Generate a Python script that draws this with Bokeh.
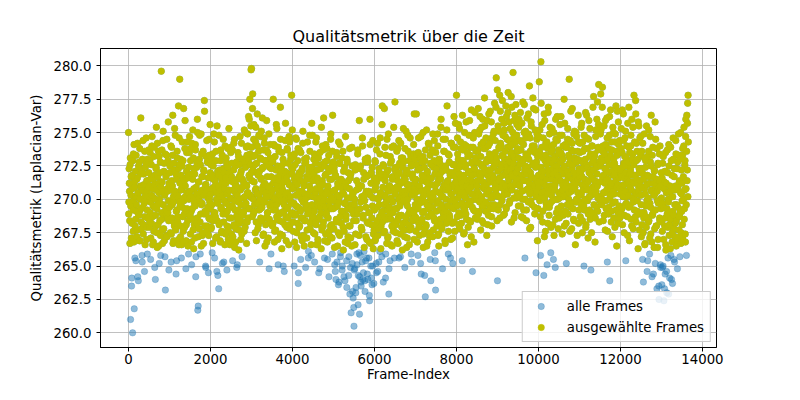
import numpy as np
from bokeh.plotting import figure
from bokeh.models import Range1d, FixedTicker, NumeralTickFormatter, Legend, LegendItem, ColumnDataSource
from bokeh.embed import file_html
from bokeh.resources import INLINE

# ---------------- data ----------------
title_text = "Qualitätsmetrik über die Zeit"
x_label = "Frame-Index"
y_label = "Qualitätsmetrik (Laplacian-Var)"
series_all = "alle Frames"
series_sel = "ausgewählte Frames"

frame_step = 10          # each list holds one value per 10 frames
frame_offset_b = 5       # second set of lists: frames 5, 15, 25, ...
threshold = 266.2        # frames at or above are "ausgewählt"

x_ticks = [0, 2000, 4000, 6000, 8000, 10000, 12000, 14000]
y_ticks = [260.0, 262.5, 265.0, 267.5, 270.0, 272.5, 275.0, 277.5, 280.0]

# frames 0, 10, 20, ...
qa0000 = [275.0, 269.8, 271.2, 268.4, 272.6, 261.0, 270.3, 267.1, 264.1, 271.8,
          260.0, 269.2, 273.4, 266.8, 261.8, 270.9, 268.0, 272.1, 265.4, 269.6,
          271.5, 267.7, 274.2, 270.4, 263.9, 268.9, 272.8, 269.1, 266.9, 271.0,
          276.1, 268.3, 270.7, 265.8, 273.0, 269.4, 267.4, 271.9, 270.1, 264.6,
          268.7, 272.4, 269.9, 274.6, 267.0, 270.6, 265.9, 271.4, 268.6, 273.7]
qa0500 = [270.2, 267.9, 272.9, 269.0, 265.5, 271.6, 268.2, 274.0, 270.8, 266.6,
          269.5, 273.2, 267.6, 271.1, 264.9, 270.0, 268.8, 272.3, 275.4, 269.3,
          266.4, 271.7, 268.1, 273.6, 270.5, 265.2, 269.7, 272.0, 267.3, 270.9,
          279.6, 268.5, 271.3, 266.7, 274.4, 269.6, 267.8, 272.7, 270.3, 265.7,
          263.2, 271.9, 268.9, 273.3, 267.2, 270.6, 269.0, 275.8, 268.4, 271.2]
qa1000 = [269.4, 272.5, 267.5, 270.7, 265.3, 273.9, 268.6, 271.0, 276.3, 269.8,
          266.9, 272.2, 268.0, 270.4, 274.8, 267.7, 264.4, 271.5, 269.2, 273.1,
          268.3, 270.1, 277.0, 266.6, 272.6, 279.0, 269.5, 267.2, 271.8, 265.6,
          270.8, 274.3, 268.7, 272.9, 266.8, 269.9, 271.4, 267.9, 275.9, 270.2,
          264.8, 268.1, 273.5, 269.3, 271.6, 266.5, 270.5, 272.4, 268.8, 274.7]
qa1500 = [270.6, 267.4, 273.8, 269.1, 265.1, 271.9, 268.5, 275.2, 270.0, 266.3,
          272.3, 269.7, 267.1, 274.1, 264.2, 270.9, 268.2, 272.7, 276.0, 261.7,
          262.0, 271.3, 267.8, 273.0, 270.3, 265.9, 268.9, 274.9, 269.6, 271.7,
          267.3, 270.7, 273.6, 266.7, 272.1, 277.4, 268.0, 270.4, 265.0, 271.1,
          269.0, 274.4, 267.6, 272.8, 270.1, 264.5, 268.6, 273.3, 269.8, 275.6]
qa2000 = [269.3, 272.6, 267.9, 270.8, 266.0, 273.4, 268.4, 271.5, 274.9, 269.0,
          265.6, 271.0, 268.7, 272.9, 270.5, 267.2, 275.5, 269.7, 264.3, 271.8,
          263.3, 268.1, 272.2, 270.2, 266.8, 273.7, 269.4, 267.5, 271.2, 265.2,
          270.9, 274.5, 268.3, 272.0, 269.9, 266.6, 271.6, 268.9, 273.1, 270.4,
          264.7, 269.1, 272.4, 267.7, 270.7, 275.3, 268.6, 271.4, 266.9, 273.9]
qa2500 = [270.0, 267.4, 272.7, 269.5, 265.4, 271.3, 268.0, 274.2, 270.6, 266.4,
          269.2, 272.5, 267.8, 271.0, 264.9, 270.3, 268.5, 273.5, 269.8, 266.2,
          271.7, 268.2, 274.7, 270.7, 267.0, 272.1, 269.0, 265.7, 271.5, 268.8,
          273.0, 270.1, 267.6, 272.8, 269.6, 275.0, 268.3, 271.1, 266.7, 273.3,
          270.5, 274.0, 268.6, 276.2, 271.8, 269.3, 277.5, 272.6, 270.2, 279.7]
qa3000 = [279.8, 271.4, 268.7, 277.9, 273.2, 270.0, 275.6, 269.1, 272.6, 267.5,
          274.3, 270.8, 266.9, 272.0, 276.4, 269.7, 271.9, 268.1, 274.8, 270.4,
          265.3, 273.1, 269.3, 271.6, 275.1, 268.4, 272.3, 270.6, 267.3, 273.7,
          269.8, 274.6, 271.2, 266.5, 272.9, 270.2, 268.6, 275.9, 271.0, 269.0,
          273.5, 267.1, 270.9, 264.8, 272.4, 269.5, 274.1, 268.2, 271.7, 270.3]
qa3500 = [270.7, 268.0, 272.8, 277.5, 269.2, 271.5, 266.8, 274.0, 270.1, 267.7,
          272.2, 269.6, 275.3, 268.5, 271.0, 265.1, 270.4, 273.6, 268.9, 271.8,
          267.4, 274.5, 269.9, 272.5, 266.3, 270.8, 268.3, 273.0, 271.3, 269.1,
          264.6, 272.1, 270.0, 275.7, 268.7, 271.6, 267.9, 273.8, 270.5, 269.4,
          272.7, 266.6, 271.1, 274.3, 268.1, 270.2, 273.3, 269.7, 277.8, 271.9]
qa4000 = [269.0, 272.3, 267.6, 270.9, 265.0, 273.4, 268.8, 271.2, 274.6, 269.5,
          266.4, 271.7, 268.2, 272.9, 263.7, 270.3, 267.9, 273.7, 269.3, 271.4,
          265.5, 268.6, 272.1, 270.6, 266.9, 274.2, 269.8, 267.3, 271.0, 268.4,
          272.7, 270.0, 264.9, 269.6, 273.1, 267.1, 271.5, 268.9, 270.4, 266.1,
          272.4, 269.2, 274.8, 267.8, 271.8, 270.7, 265.8, 275.7, 268.5, 272.0]
qa4500 = [270.2, 267.5, 273.0, 269.1, 265.3, 271.6, 268.3, 274.3, 270.8, 266.6,
          272.2, 269.7, 267.0, 271.3, 264.5, 270.1, 268.7, 273.5, 269.4, 272.6,
          266.3, 270.5, 267.7, 274.0, 271.1, 268.0, 276.1, 269.9, 265.6, 272.8,
          270.4, 267.4, 271.9, 269.0, 273.8, 266.8, 270.7, 268.6, 272.3, 264.2,
          269.5, 271.5, 267.2, 274.5, 270.0, 268.1, 272.5, 265.9, 276.3, 269.3]
qa5000 = [270.6, 267.8, 272.1, 265.1, 269.4, 271.8, 264.0, 268.5, 273.2, 270.3,
          266.5, 271.0, 263.6, 269.8, 272.7, 267.3, 274.1, 265.7, 270.9, 268.2,
          271.4, 264.7, 269.1, 273.6, 266.2, 270.4, 267.6, 272.4, 263.9, 269.7,
          271.2, 268.8, 265.4, 273.0, 270.1, 266.7, 272.0, 264.3, 268.0, 270.8,
          262.9, 271.6, 267.1, 261.5, 269.2, 273.9, 265.2, 270.5, 262.6, 268.4]
qa5500 = [260.5, 269.6, 264.8, 272.2, 267.4, 263.4, 270.7, 265.9, 268.9, 273.4,
          262.1, 271.1, 266.0, 275.9, 264.2, 269.3, 272.5, 263.8, 267.9, 270.2,
          265.3, 274.0, 268.6, 264.5, 271.5, 266.4, 269.9, 263.1, 272.8, 267.2,
          270.6, 265.6, 268.3, 273.1, 264.0, 271.8, 269.0, 266.8, 262.4, 276.0,
          270.3, 265.0, 272.0, 268.1, 263.6, 269.5, 274.4, 266.3, 271.3, 267.7]
qa6000 = [269.2, 272.9, 267.0, 270.9, 265.2, 273.7, 268.4, 271.6, 264.6, 270.0,
          267.8, 272.3, 269.6, 266.1, 274.6, 270.5, 268.0, 271.9, 265.7, 277.0,
          269.1, 272.6, 267.5, 270.3, 276.8, 268.7, 271.4, 264.1, 273.3, 269.8,
          266.7, 272.1, 270.7, 267.2, 274.9, 262.9, 269.4, 271.0, 265.4, 272.7,
          268.5, 270.1, 273.9, 266.5, 271.7, 269.0, 267.6, 275.4, 270.6, 268.2]
qa6500 = [277.3, 270.4, 268.1, 272.4, 269.3, 266.9, 271.8, 273.8, 268.6, 270.8,
          265.6, 272.0, 269.5, 267.4, 274.2, 270.2, 268.8, 271.3, 266.2, 273.1,
          269.9, 272.8, 267.7, 270.6, 264.9, 271.5, 268.3, 275.1, 269.7, 272.2,
          267.1, 270.0, 273.6, 268.9, 271.1, 266.6, 269.2, 274.6, 270.7, 267.9,
          272.5, 265.3, 270.3, 271.9, 268.4, 273.4, 269.0, 276.4, 271.2, 268.7]
qa7000 = [270.5, 267.6, 276.4, 272.6, 269.4, 271.0, 265.8, 273.5, 268.2, 270.9,
          267.3, 272.3, 269.8, 274.7, 264.4, 271.4, 268.5, 270.1, 273.2, 266.4,
          271.7, 269.1, 267.8, 272.9, 262.7, 270.7, 268.0, 275.2, 269.6, 272.1,
          266.8, 271.2, 269.3, 274.1, 267.5, 270.4, 265.5, 272.7, 268.9, 271.6,
          269.9, 273.7, 267.2, 270.2, 272.4, 268.6, 274.4, 266.0, 271.0, 263.2]
qa7500 = [270.6, 268.4, 272.8, 269.7, 274.9, 267.3, 271.5, 266.5, 273.0, 269.2,
          271.9, 268.1, 275.4, 270.3, 267.9, 272.5, 264.8, 270.8, 269.0, 273.6,
          268.6, 271.1, 266.9, 274.5, 270.0, 272.2, 268.3, 277.0, 269.5, 271.4,
          265.9, 270.7, 273.3, 268.8, 272.0, 269.9, 267.0, 274.2, 270.4, 271.8,
          268.2, 265.2, 272.6, 269.3, 276.2, 270.9, 267.6, 273.9, 271.3, 269.6]
qa8000 = [277.8, 271.2, 268.7, 273.4, 270.1, 275.6, 269.0, 272.4, 267.8, 271.6,
          274.3, 270.5, 268.2, 272.9, 265.4, 270.9, 273.7, 269.4, 271.8, 267.5,
          275.0, 270.2, 272.6, 268.9, 274.0, 271.0, 269.6, 266.6, 273.2, 270.7,
          272.1, 268.4, 275.9, 271.5, 269.8, 273.9, 267.2, 270.4, 272.8, 264.6,
          271.3, 274.6, 269.2, 272.3, 270.0, 276.5, 268.6, 273.1, 271.9, 270.3]
qa8500 = [271.0, 268.5, 273.6, 276.8, 270.4, 272.7, 269.1, 275.2, 271.7, 267.7,
          274.1, 270.0, 272.5, 269.5, 276.0, 271.3, 268.2, 273.8, 270.8, 275.5,
          272.0, 269.8, 274.6, 271.1, 267.3, 273.0, 270.6, 272.9, 268.8, 276.4,
          271.5, 274.2, 269.3, 272.2, 270.1, 275.8, 268.0, 273.3, 271.8, 270.3,
          274.9, 272.4, 269.6, 277.2, 271.2, 273.5, 270.7, 279.1, 272.8, 268.4]
qa9000 = [263.9, 272.1, 269.2, 275.1, 271.4, 273.8, 268.6, 276.6, 270.9, 274.0,
          272.6, 269.9, 277.4, 271.8, 273.2, 270.3, 275.7, 268.9, 272.9, 274.7,
          271.0, 269.4, 276.2, 272.4, 270.6, 273.9, 278.0, 271.6, 274.4, 269.7,
          272.2, 275.3, 270.8, 273.4, 268.3, 276.9, 271.9, 274.1, 279.5, 272.7,
          270.1, 275.9, 273.1, 269.0, 271.3, 277.1, 272.0, 274.8, 270.5, 273.6]
qa9500 = [272.3, 269.5, 275.4, 271.1, 273.7, 270.2, 276.5, 272.8, 268.7, 274.3,
          271.6, 270.0, 277.3, 273.0, 269.2, 275.0, 271.9, 265.6, 272.5, 274.6,
          270.7, 268.4, 276.1, 273.3, 271.4, 269.8, 274.9, 272.1, 278.5, 270.4,
          273.6, 267.9, 275.8, 271.7, 269.6, 274.0, 272.6, 270.9, 276.8, 273.9,
          271.0, 268.9, 275.2, 272.4, 264.5, 270.6, 274.5, 271.3, 273.2, 269.3]
qa10000 = [271.8, 274.7, 278.8, 269.9, 273.4, 265.8, 280.3, 272.0, 270.5, 275.6,
           268.3, 273.1, 271.2, 264.3, 276.4, 270.1, 272.9, 267.6, 274.2, 269.4,
           271.5, 265.1, 273.8, 270.8, 276.9, 272.2, 268.8, 274.9, 271.0, 269.7,
           266.0, 273.5, 270.3, 275.3, 272.7, 268.1, 271.9, 274.1, 267.3, 270.7,
           273.0, 264.9, 276.0, 271.4, 269.0, 272.5, 274.4, 270.0, 267.8, 273.7]
qa10500 = [271.6, 268.6, 274.8, 270.4, 272.8, 276.2, 269.5, 273.3, 267.4, 271.1,
           274.0, 270.2, 272.4, 268.0, 275.7, 271.3, 269.1, 273.9, 265.2, 270.8,
           272.1, 274.5, 268.9, 271.8, 270.0, 279.0, 273.1, 269.7, 272.6, 276.6,
           270.6, 267.8, 274.2, 271.5, 269.3, 273.6, 272.0, 268.4, 275.1, 270.9,
           266.6, 272.9, 271.2, 274.7, 269.8, 273.0, 270.5, 276.3, 268.2, 272.3]
qa11000 = [270.3, 273.5, 268.7, 272.0, 275.4, 269.6, 271.7, 267.5, 274.3, 270.7,
           272.7, 265.0, 269.2, 273.8, 271.1, 276.5, 268.1, 270.9, 274.6, 272.4,
           269.9, 267.1, 271.4, 275.9, 270.2, 273.2, 268.5, 272.2, 264.7, 270.6,
           274.0, 271.6, 269.0, 276.9, 272.9, 268.8, 271.0, 273.4, 266.8, 270.4,
           275.2, 272.5, 269.4, 271.9, 277.3, 270.1, 273.9, 278.6, 268.3, 272.6]
qa11500 = [271.3, 274.9, 277.9, 269.7, 272.8, 270.0, 278.4, 273.6, 268.4, 271.8,
           275.5, 270.5, 272.3, 267.7, 274.1, 269.3, 271.5, 276.1, 265.3, 273.0,
           270.8, 268.9, 272.0, 274.8, 263.9, 270.3, 276.7, 271.2, 269.1, 273.7,
           267.2, 272.6, 270.6, 275.0, 268.6, 271.9, 274.3, 269.8, 272.4, 277.0,
           270.9, 266.5, 273.3, 271.1, 268.2, 275.8, 272.1, 269.5, 274.4, 270.4]
qa12000 = [272.2, 269.0, 275.3, 271.0, 273.5, 268.1, 270.7, 276.4, 272.7, 267.5,
           271.6, 274.6, 269.6, 265.4, 273.1, 270.2, 272.5, 268.7, 275.7, 271.3,
           269.4, 273.9, 266.9, 270.9, 272.3, 274.0, 268.5, 271.8, 276.0, 270.1,
           273.4, 267.8, 271.2, 277.8, 269.2, 272.9, 270.5, 277.4, 268.3, 274.2,
           271.5, 269.9, 273.0, 266.3, 270.6, 275.5, 272.0, 268.9, 271.4, 274.7]
qa12500 = [270.3, 267.2, 273.6, 269.0, 265.5, 271.9, 263.8, 268.6, 274.9, 270.8,
           266.7, 272.4, 269.5, 267.9, 271.1, 264.6, 273.2, 270.0, 268.3, 275.2,
           271.7, 265.9, 269.7, 272.8, 267.4, 276.3, 270.6, 264.2, 268.8, 273.9,
           271.2, 269.2, 266.4, 272.1, 270.4, 265.2, 274.5, 268.0, 271.5, 263.3,
           269.9, 272.6, 267.0, 270.9, 262.5, 273.4, 268.4, 271.0, 264.9, 269.3]
qa13000 = [270.1, 263.6, 267.6, 272.7, 265.0, 269.4, 262.4, 271.3, 268.0, 264.4,
           273.5, 266.2, 270.5, 263.0, 268.9, 272.0, 265.6, 269.8, 274.1, 267.3,
           264.1, 271.0, 268.5, 265.8, 272.9, 270.2, 266.8, 263.7, 269.1, 273.0,
           267.8, 271.7, 265.3, 270.7, 268.2, 274.4, 266.5, 269.6, 272.3, 264.8,
           270.9, 267.1, 273.3, 268.7, 271.4, 265.7, 269.2, 275.0, 267.5, 270.4]
qa13500 = [271.2, 268.1, 273.8, 266.9, 270.0, 275.4, 269.3, 272.6, 267.4, 274.7,
           270.8, 265.8, 276.3, 272.2, 277.2, 277.8]

# frames 5, 15, 25, ...
qb0000 = [268.9, 272.3, 270.6, 266.7, 273.1, 269.5, 271.7, 263.5, 268.2, 270.8,
          272.9, 267.6, 269.9, 274.1, 271.3, 265.6, 270.2, 268.5, 273.3, 269.1,
          267.2, 271.6, 264.2, 270.5, 272.5, 268.8, 266.9, 273.8, 270.0, 271.9,
          269.3, 267.8, 272.2, 265.3, 270.7, 274.4, 268.1, 271.1, 269.7, 273.6,
          266.6, 270.4, 272.7, 267.9, 271.4, 269.2, 273.0, 268.6, 270.9, 272.0]
qb0500 = [271.0, 268.3, 273.5, 269.8, 267.1, 272.6, 270.3, 274.7, 268.7, 271.5,
          266.8, 270.1, 273.9, 269.4, 271.8, 264.0, 268.0, 272.4, 270.7, 267.5,
          274.2, 269.6, 271.2, 266.5, 273.2, 270.0, 268.4, 272.8, 265.8, 271.3,
          269.0, 273.7, 267.7, 270.6, 275.1, 268.9, 272.1, 266.9, 270.4, 273.4,
          269.2, 271.7, 267.3, 274.5, 270.8, 268.6, 272.9, 269.9, 264.7, 271.1]
qb1000 = [272.0, 268.5, 270.9, 274.0, 267.4, 271.4, 269.6, 273.3, 266.7, 270.2,
          272.7, 268.2, 275.3, 270.6, 267.9, 271.9, 269.1, 265.4, 273.6, 270.3,
          268.7, 272.3, 267.0, 274.6, 269.8, 271.2, 268.0, 273.0, 270.7, 266.6,
          272.5, 269.4, 271.6, 267.6, 276.8, 270.1, 268.9, 273.8, 271.0, 269.2,
          266.9, 272.1, 270.5, 274.3, 268.4, 271.8, 265.9, 270.0, 273.5, 269.0]
qb1500 = [268.8, 272.9, 270.2, 266.8, 274.2, 269.3, 271.5, 267.7, 273.1, 270.8,
          268.1, 271.9, 269.5, 273.7, 265.7, 270.4, 272.4, 268.6, 275.0, 270.0,
          267.2, 271.3, 269.9, 274.8, 268.3, 272.6, 270.6, 266.5, 273.4, 269.7,
          271.7, 267.5, 270.3, 272.2, 268.9, 276.6, 269.1, 271.1, 264.9, 273.2,
          270.7, 268.0, 272.8, 269.4, 271.6, 267.3, 274.5, 270.1, 268.5, 272.0]
qb2000 = [270.4, 267.8, 273.0, 269.6, 271.8, 266.7, 272.5, 268.7, 270.9, 274.3,
          269.0, 271.4, 267.1, 273.6, 270.0, 264.6, 268.4, 272.1, 269.8, 271.0,
          274.8, 268.2, 270.6, 266.9, 272.9, 269.3, 271.6, 267.6, 273.3, 270.3,
          268.9, 272.3, 265.3, 270.8, 269.1, 274.0, 267.4, 271.2, 269.7, 272.7,
          268.0, 270.5, 273.8, 267.0, 271.9, 269.5, 272.0, 266.6, 270.1, 273.5]
qb2500 = [268.6, 271.7, 269.4, 273.7, 267.2, 270.7, 272.2, 268.1, 274.5, 269.9,
          271.1, 266.8, 270.4, 272.8, 268.8, 265.1, 271.5, 269.2, 273.2, 267.7,
          270.0, 272.6, 268.4, 271.9, 269.6, 274.2, 267.4, 270.9, 273.0, 268.9,
          271.3, 269.1, 275.2, 270.2, 267.9, 272.4, 269.7, 273.9, 271.0, 268.3,
          274.9, 270.5, 272.9, 269.3, 276.0, 271.6, 273.4, 270.3, 275.5, 272.0]
qb3000 = [273.9, 270.1, 276.8, 272.2, 268.9, 274.5, 271.3, 269.6, 273.3, 270.7,
          275.4, 268.3, 272.7, 270.4, 274.0, 267.8, 271.8, 273.6, 269.2, 272.1,
          270.0, 274.7, 268.6, 271.5, 273.0, 269.4, 276.1, 270.9, 272.4, 267.4,
          271.1, 274.2, 269.8, 272.9, 268.1, 270.5, 273.7, 266.8, 271.7, 269.0,
          272.6, 270.2, 274.9, 268.5, 271.0, 273.1, 269.7, 265.9, 272.3, 270.6]
qb3500 = [269.5, 272.9, 268.2, 271.2, 274.1, 270.0, 267.6, 273.2, 269.2, 271.6,
          275.6, 268.7, 270.8, 272.5, 267.0, 273.9, 269.8, 271.4, 268.4, 270.3,
          276.9, 272.2, 269.0, 271.0, 273.5, 267.3, 270.6, 265.0, 272.7, 269.6,
          271.7, 268.1, 274.4, 270.4, 266.9, 272.0, 269.3, 273.7, 271.3, 268.6,
          270.1, 274.7, 267.8, 271.9, 269.9, 273.0, 268.9, 272.4, 270.9, 275.2]
qb4000 = [270.8, 268.3, 273.2, 269.7, 271.5, 266.8, 272.6, 268.9, 270.3, 274.5,
          267.5, 271.1, 269.4, 273.8, 264.5, 270.6, 272.0, 268.0, 271.8, 269.1,
          273.5, 267.2, 270.0, 272.3, 268.6, 275.1, 269.8, 271.3, 266.5, 273.0,
          270.4, 268.4, 272.8, 269.3, 271.7, 267.7, 274.3, 270.2, 265.6, 272.1,
          269.0, 271.0, 273.6, 268.2, 270.7, 266.6, 272.4, 269.6, 274.8, 271.4]
qb4500 = [268.7, 271.9, 269.2, 273.4, 267.4, 270.5, 272.7, 268.1, 274.6, 270.0,
          271.6, 266.7, 269.5, 273.1, 268.5, 271.2, 264.8, 270.8, 272.3, 269.0,
          275.4, 267.9, 271.4, 269.7, 273.7, 268.3, 270.2, 272.5, 266.9, 271.8,
          269.4, 274.1, 268.8, 270.6, 272.9, 265.5, 271.0, 269.9, 273.3, 267.6,
          270.4, 272.1, 268.0, 274.9, 269.3, 271.5, 267.1, 273.6, 270.1, 272.8]
qb5000 = [269.9, 272.4, 266.4, 270.7, 264.6, 271.7, 268.3, 273.5, 265.3, 269.5,
          271.2, 267.5, 274.3, 263.8, 270.2, 272.7, 268.7, 266.0, 271.5, 269.1,
          273.1, 265.0, 270.5, 267.9, 272.1, 264.2, 269.7, 271.0, 266.8, 274.7,
          268.5, 270.9, 263.4, 272.8, 269.3, 267.2, 271.4, 265.7, 270.1, 273.8,
          268.0, 264.9, 271.9, 269.6, 266.5, 272.5, 263.1, 270.4, 268.9, 261.9]
qb5500 = [264.7, 270.0, 266.6, 272.6, 263.0, 268.4, 271.4, 265.1, 269.2, 273.7,
          264.3, 270.8, 267.3, 261.4, 272.3, 265.8, 269.8, 263.5, 271.0, 267.7,
          274.6, 264.0, 268.8, 272.0, 266.1, 270.3, 263.9, 273.0, 265.4, 269.4,
          271.7, 267.0, 264.4, 272.8, 268.2, 270.6, 265.6, 262.8, 269.0, 274.1,
          266.7, 271.2, 264.1, 268.6, 272.4, 265.0, 270.1, 267.4, 263.7, 271.6]
qb6000 = [270.7, 266.9, 272.8, 268.1, 264.5, 271.3, 269.4, 274.2, 267.3, 270.1,
          265.3, 272.0, 268.7, 273.4, 270.4, 266.3, 271.6, 269.0, 275.6, 268.3,
          270.9, 263.8, 272.5, 269.6, 267.6, 273.9, 270.2, 265.9, 271.8, 268.5,
          274.5, 269.2, 267.1, 272.2, 270.6, 264.8, 271.0, 268.9, 273.2, 266.6,
          270.0, 272.9, 268.0, 271.5, 269.8, 267.8, 274.0, 270.8, 265.6, 272.3]
qb6500 = [269.3, 272.1, 267.5, 270.9, 273.6, 268.4, 271.4, 266.7, 270.0, 274.4,
          268.8, 272.7, 269.7, 265.7, 271.2, 273.1, 267.9, 270.5, 272.4, 268.2,
          275.3, 269.9, 271.7, 267.2, 273.8, 270.3, 268.6, 272.0, 266.4, 271.1,
          269.5, 274.8, 268.1, 270.7, 272.9, 267.7, 271.9, 269.0, 273.3, 265.9,
          270.4, 272.6, 268.5, 271.6, 269.2, 274.1, 267.0, 270.8, 273.0, 269.6]
qb7000 = [271.5, 268.6, 273.4, 270.0, 266.8, 272.2, 269.3, 274.6, 267.9, 271.0,
          269.7, 273.1, 265.2, 270.6, 272.8, 268.3, 271.8, 269.0, 275.0, 267.4,
          270.3, 272.4, 264.3, 269.8, 273.7, 268.1, 271.3, 266.5, 272.0, 270.8,
          268.7, 274.2, 269.5, 271.6, 267.2, 273.3, 270.1, 263.9, 272.6, 268.9,
          271.1, 269.4, 274.9, 267.7, 270.5, 272.9, 268.4, 271.9, 265.4, 273.5]
qb7500 = [269.1, 272.3, 268.0, 271.2, 274.0, 269.9, 267.4, 273.0, 270.5, 272.7,
          268.5, 271.5, 276.0, 269.6, 267.8, 272.1, 270.2, 274.5, 268.8, 271.0,
          273.6, 269.3, 266.7, 272.5, 270.7, 268.2, 275.2, 271.3, 269.0, 273.4,
          267.6, 270.9, 272.8, 268.6, 271.8, 265.6, 270.4, 274.2, 269.4, 272.0,
          267.1, 271.1, 273.9, 270.0, 268.3, 272.6, 269.8, 275.7, 271.7, 270.6]
qb8000 = [272.2, 269.5, 274.6, 270.8, 273.0, 268.1, 271.9, 275.3, 270.3, 272.6,
          268.8, 273.8, 271.2, 269.7, 276.3, 270.5, 272.9, 267.4, 271.6, 274.1,
          269.2, 272.4, 270.1, 275.8, 268.5, 271.4, 273.5, 270.6, 267.9, 272.0,
          274.8, 269.9, 271.1, 273.3, 268.3, 270.9, 276.7, 272.7, 269.4, 271.8,
          273.9, 270.4, 266.8, 272.3, 275.0, 269.1, 271.3, 273.6, 270.0, 272.8]
qb8500 = [270.6, 273.7, 271.4, 268.9, 274.9, 272.0, 269.8, 276.2, 271.7, 273.2,
          270.2, 275.4, 268.4, 272.6, 270.9, 274.3, 269.5, 272.3, 277.6, 271.0,
          273.8, 269.1, 272.8, 270.4, 275.9, 271.8, 268.1, 274.0, 272.2, 270.7,
          273.4, 269.6, 276.6, 271.3, 272.9, 268.7, 274.6, 270.1, 273.0, 271.6,
          269.3, 275.1, 272.5, 270.8, 274.4, 271.1, 276.9, 273.1, 270.3, 278.2]
qb9000 = [272.7, 275.5, 270.2, 273.9, 271.6, 277.8, 269.6, 274.2, 272.3, 270.9,
          276.0, 273.3, 271.2, 274.8, 268.8, 272.6, 275.2, 270.6, 273.6, 271.9,
          277.0, 269.3, 272.1, 274.5, 270.4, 276.5, 273.0, 271.4, 275.8, 272.8,
          269.9, 274.0, 271.0, 277.7, 273.5, 270.7, 272.4, 275.0, 271.7, 274.6,
          268.6, 273.2, 276.3, 271.1, 274.3, 272.0, 270.1, 275.6, 273.8, 271.5]
qb9500 = [273.1, 270.3, 276.0, 272.6, 271.0, 274.4, 269.5, 273.7, 271.8, 275.7,
          270.6, 272.9, 268.6, 274.1, 271.4, 277.1, 272.2, 270.0, 275.1, 273.4,
          269.2, 271.9, 274.7, 272.4, 270.8, 276.4, 273.0, 271.2, 267.8, 274.6,
          272.0, 269.9, 275.5, 271.6, 273.8, 270.5, 277.6, 272.7, 271.1, 274.0,
          269.4, 273.5, 271.5, 276.7, 270.2, 272.8, 274.9, 266.9, 271.3, 273.3]
qb10000 = [270.9, 273.6, 271.3, 275.2, 268.7, 272.4, 277.2, 270.2, 273.9, 271.7,
           269.1, 274.6, 272.1, 270.6, 267.2, 275.9, 271.0, 273.3, 269.7, 272.6,
           274.3, 270.4, 268.2, 276.5, 271.9, 273.0, 269.4, 272.8, 275.4, 270.7,
           267.9, 274.0, 271.5, 273.7, 269.9, 272.3, 265.5, 275.0, 270.9, 273.2,
           271.1, 268.5, 274.5, 272.2, 270.0, 276.2, 271.8, 269.3, 273.4, 270.5]
qb10500 = [272.9, 270.1, 275.6, 271.4, 273.5, 269.0, 272.2, 274.8, 270.7, 273.0,
           268.8, 271.9, 277.5, 272.5, 270.3, 274.1, 271.2, 268.2, 273.9, 272.0,
           269.6, 275.3, 271.6, 273.3, 270.5, 272.7, 267.6, 274.4, 271.0, 269.4,
           273.7, 272.3, 276.8, 270.8, 272.6, 268.5, 274.9, 271.3, 273.1, 269.8,
           271.8, 275.0, 270.0, 272.8, 267.3, 273.6, 271.5, 274.3, 269.2, 272.1]
qb11000 = [271.7, 274.2, 269.8, 272.9, 270.4, 275.7, 271.1, 268.4, 273.6, 272.3,
           269.5, 274.8, 271.5, 270.0, 273.0, 267.9, 272.6, 276.3, 270.7, 273.8,
           271.3, 268.9, 274.5, 272.0, 269.2, 275.3, 271.9, 273.4, 270.3, 267.5,
           272.7, 274.0, 270.9, 272.2, 277.7, 269.6, 273.2, 271.4, 268.6, 274.7,
           270.6, 272.4, 276.0, 271.0, 269.1, 273.7, 275.6, 270.2, 272.8, 269.9]
qb11500 = [272.5, 270.2, 275.2, 273.1, 269.6, 276.9, 271.7, 274.0, 270.5, 272.9,
           268.8, 273.4, 271.2, 275.9, 269.9, 272.2, 270.7, 274.6, 267.6, 271.5,
           273.8, 269.4, 272.6, 276.2, 270.1, 273.3, 271.0, 268.3, 274.3, 272.1,
           269.7, 275.4, 271.8, 273.0, 270.4, 272.7, 267.9, 274.9, 271.4, 269.2,
           273.6, 270.9, 276.6, 272.3, 269.0, 274.1, 271.6, 273.5, 268.6, 272.0]
qb12000 = [270.8, 273.8, 271.7, 269.3, 276.7, 272.4, 270.2, 274.4, 271.1, 268.8,
           273.2, 270.6, 275.1, 272.0, 269.7, 274.0, 271.5, 267.3, 272.8, 270.3,
           276.9, 271.9, 273.5, 269.5, 272.1, 274.8, 270.7, 268.0, 273.0, 271.3,
           275.4, 269.8, 272.6, 270.0, 274.3, 271.8, 268.7, 276.4, 272.9, 270.4,
           273.6, 269.1, 271.2, 275.8, 270.9, 272.3, 267.7, 274.6, 271.0, 273.3]
qb12500 = [269.6, 272.3, 268.1, 270.9, 274.2, 267.5, 271.5, 269.0, 273.1, 266.6,
           270.4, 272.9, 268.7, 275.5, 269.9, 271.8, 265.4, 270.1, 273.6, 268.4,
           271.2, 267.1, 274.7, 269.4, 272.5, 270.7, 266.8, 273.3, 268.9, 271.7,
           264.4, 270.3, 272.2, 267.8, 275.8, 269.2, 271.0, 268.0, 273.8, 270.6,
           266.4, 272.7, 269.7, 263.5, 271.4, 268.6, 274.0, 265.1, 270.0, 272.0]
qb13000 = [268.3, 271.6, 264.9, 269.7, 273.2, 267.0, 270.8, 263.3, 272.1, 268.6,
           266.6, 271.2, 264.6, 269.3, 273.7, 267.9, 270.0, 262.9, 272.5, 268.1,
           270.6, 266.3, 273.9, 269.0, 264.0, 271.8, 267.5, 270.2, 274.6, 268.8,
           265.5, 272.3, 269.6, 267.2, 271.0, 273.4, 268.4, 270.9, 266.9, 272.8,
           269.4, 274.9, 267.7, 271.3, 268.9, 273.0, 270.5, 266.7, 272.2, 269.1]
qb13500 = [269.9, 273.3, 267.3, 271.7, 274.0, 268.5, 270.7, 272.9, 266.8, 276.0,
           269.6, 273.6, 271.4, 275.7, 270.2, 274.3]

set_a = [qa0000, qa0500, qa1000, qa1500, qa2000, qa2500, qa3000, qa3500, qa4000, qa4500,
         qa5000, qa5500, qa6000, qa6500, qa7000, qa7500, qa8000, qa8500, qa9000, qa9500,
         qa10000, qa10500, qa11000, qa11500, qa12000, qa12500, qa13000, qa13500]
set_b = [qb0000, qb0500, qb1000, qb1500, qb2000, qb2500, qb3000, qb3500, qb4000, qb4500,
         qb5000, qb5500, qb6000, qb6500, qb7000, qb7500, qb8000, qb8500, qb9000, qb9500,
         qb10000, qb10500, qb11000, qb11500, qb12000, qb12500, qb13000, qb13500]

# ---------------- build ----------------
vals_a = np.array([v for seg in set_a for v in seg])
vals_b = np.array([v for seg in set_b for v in seg])
frames_a = np.arange(len(vals_a)) * frame_step
frames_b = np.arange(len(vals_b)) * frame_step + frame_offset_b

frames = np.concatenate([frames_a, frames_b])
quality = np.concatenate([vals_a, vals_b])
order = np.argsort(frames, kind="stable")
frames = frames[order]
quality = quality[order]
selected = quality >= threshold

src_all = ColumnDataSource(dict(x=frames, y=quality))
src_sel = ColumnDataSource(dict(x=frames[selected], y=quality[selected]))

FONT = "DejaVu Sans"

p = figure(width=784, height=384, output_backend="svg", toolbar_location=None,
           x_range=Range1d(-683, 14343), y_range=Range1d(258.9, 281.3),
           title=title_text)
p.min_border_left = 100
p.min_border_right = 68
p.min_border_top = 48
p.min_border_bottom = 36
p.background_fill_color = "white"
p.border_fill_color = "white"
p.outline_line_color = "black"
p.outline_line_alpha = 1.0
p.outline_line_width = 1

p.title.align = "center"
p.title.text_font = FONT
p.title.text_font_size = "16px"
p.title.text_font_style = "normal"
p.title.text_color = "black"
p.title.standoff = 5

r_all = p.scatter("x", "y", source=src_all, size=6.5, fill_color="#1f77b4", fill_alpha=0.5,
                  line_color="#1f77b4", line_alpha=0.5, line_width=0.5)
r_sel = p.scatter("x", "y", source=src_sel, size=6.5, fill_color="#bfbf00", fill_alpha=1.0,
                  line_color="#bfbf00", line_width=0.5)

p.xaxis.ticker = FixedTicker(ticks=x_ticks)
p.yaxis.ticker = FixedTicker(ticks=y_ticks)
p.xaxis.formatter = NumeralTickFormatter(format="0")
p.yaxis.formatter = NumeralTickFormatter(format="0.0")
p.xaxis.axis_label = x_label
p.yaxis.axis_label = y_label

for ax in (p.xaxis, p.yaxis):
    ax.axis_label_text_font = FONT
    ax.axis_label_text_font_size = "13.3px"
    ax.axis_label_text_font_style = "normal"
    ax.axis_label_text_color = "black"
    ax.major_label_text_font = FONT
    ax.major_label_text_font_size = "13.3px"
    ax.major_label_text_color = "black"
    ax.major_tick_out = 4
    ax.major_tick_in = 0
    ax.minor_tick_out = 0
    ax.minor_tick_in = 0
    ax.minor_tick_line_color = None
    ax.axis_line_color = "black"
    ax.major_tick_line_color = "black"
p.xaxis.major_label_standoff = 2
p.xaxis.axis_label_standoff = 0
p.yaxis.major_label_standoff = 5
p.yaxis.axis_label_standoff = 6

p.grid.grid_line_color = "#b0b0b0"
p.grid.grid_line_width = 0.8
p.grid.grid_line_alpha = 1.0

legend = Legend(items=[LegendItem(label=series_all, renderers=[r_all]),
                       LegendItem(label=series_sel, renderers=[r_sel])],
                location="bottom_right")
legend.label_text_font = FONT
legend.label_text_font_size = "13.3px"
legend.label_text_color = "black"
legend.border_line_color = "#cccccc"
legend.border_line_alpha = 1.0
legend.background_fill_alpha = 0.8
legend.glyph_width = 24
legend.glyph_height = 16
legend.label_standoff = 14
legend.label_height = 16
legend.spacing = 5
legend.padding = 6
legend.margin = 5
p.add_layout(legend)

open("out.html", "w").write(file_html(p, INLINE))
